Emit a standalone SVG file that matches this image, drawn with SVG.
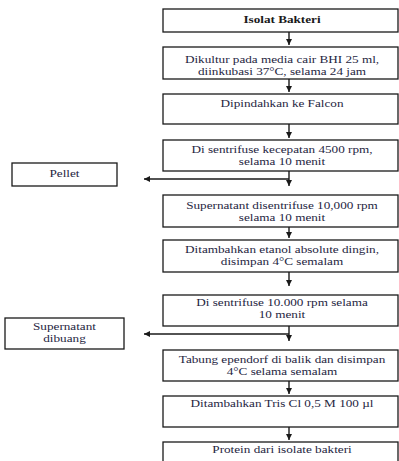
<svg xmlns="http://www.w3.org/2000/svg" width="399" height="461" viewBox="0 0 399 461">
<defs>
<style>
.box{fill:#fff;stroke:#1a1a1a;stroke-width:1.3}
.t{font-family:"Liberation Serif","Times New Roman",serif;font-size:11px;fill:#26263f;text-anchor:middle}
.b{font-weight:bold;fill:#1a1a1a}
.c{stroke:#1a1a1a;stroke-width:1.4;fill:none}
</style>
<marker id="ah" markerUnits="userSpaceOnUse" markerWidth="8" markerHeight="8" refX="6" refY="3" orient="auto">
<path d="M0,0 L6,3 L0,6 Z" fill="#1a1a1a"/>
</marker>
</defs>
<rect width="399" height="461" fill="#fff"/>
<g id="connectors">
<line class="c" x1="289" y1="32" x2="289" y2="45" marker-end="url(#ah)"/>
<line class="c" x1="289" y1="79" x2="289" y2="92" marker-end="url(#ah)"/>
<line class="c" x1="289" y1="124" x2="289" y2="138" marker-end="url(#ah)"/>
<line class="c" x1="289" y1="171" x2="289" y2="186" marker-end="url(#ah)"/>
<line class="c" x1="289" y1="179" x2="144" y2="179" marker-end="url(#ah)"/>
<line class="c" x1="289" y1="227" x2="289" y2="238" marker-end="url(#ah)"/>
<line class="c" x1="289" y1="272" x2="289" y2="286" marker-end="url(#ah)"/>
<line class="c" x1="289" y1="326" x2="289" y2="341" marker-end="url(#ah)"/>
<line class="c" x1="289" y1="334" x2="144" y2="334" marker-end="url(#ah)"/>
<line class="c" x1="289" y1="381" x2="289" y2="394" marker-end="url(#ah)"/>
<line class="c" x1="289" y1="427" x2="289" y2="440" marker-end="url(#ah)"/>
</g>
<g id="n1">
<rect class="box" x="163" y="9" width="235" height="23"/>
<text class="t b" transform="translate(282 0) scale(1.2 1)" x="0" y="23.5">Isolat Bakteri</text>
</g>
<g id="n2">
<rect class="box" x="163" y="47" width="235" height="32"/>
<text class="t" transform="translate(282 0) scale(1.2 1)" x="0" y="63">Dikultur pada media cair BHI 25 ml,</text>
<text class="t" transform="translate(282 0) scale(1.2 1)" x="0" y="75">diinkubasi 37°C, selama 24 jam</text>
</g>
<g id="n3">
<rect class="box" x="163" y="94" width="235" height="30"/>
<text class="t" transform="translate(282 0) scale(1.2 1)" x="0" y="107">Dipindahkan ke Falcon</text>
</g>
<g id="n4">
<rect class="box" x="163" y="140" width="235" height="31"/>
<text class="t" transform="translate(282 0) scale(1.2 1)" x="0" y="153.5">Di sentrifuse kecepatan 4500 rpm,</text>
<text class="t" transform="translate(282 0) scale(1.2 1)" x="0" y="165.5">selama 10 menit</text>
</g>
<g id="pellet">
<rect class="box" x="12" y="163" width="105" height="23"/>
<text class="t" transform="translate(64.5 0) scale(1.2 1)" x="0" y="177">Pellet</text>
</g>
<g id="n5">
<rect class="box" x="163" y="195" width="235" height="32"/>
<text class="t" transform="translate(282 0) scale(1.2 1)" x="0" y="209.5">Supernatant disentrifuse 10,000 rpm</text>
<text class="t" transform="translate(282 0) scale(1.2 1)" x="0" y="221.5">selama 10 menit</text>
</g>
<g id="n6">
<rect class="box" x="163" y="240" width="235" height="32"/>
<text class="t" transform="translate(282 0) scale(1.2 1)" x="0" y="253.5">Ditambahkan etanol absolute dingin,</text>
<text class="t" transform="translate(282 0) scale(1.2 1)" x="0" y="265.5">disimpan 4°C semalam</text>
</g>
<g id="n7">
<rect class="box" x="163" y="295" width="235" height="31"/>
<text class="t" transform="translate(282 0) scale(1.2 1)" x="0" y="306.5">Di sentrifuse 10.000 rpm selama</text>
<text class="t" transform="translate(282 0) scale(1.2 1)" x="0" y="318.5">10 menit</text>
</g>
<g id="dibuang">
<rect class="box" x="5" y="318" width="119" height="31"/>
<text class="t" transform="translate(64.5 0) scale(1.2 1)" x="0" y="330.5">Supernatant</text>
<text class="t" transform="translate(64.5 0) scale(1.2 1)" x="0" y="342.5">dibuang</text>
</g>
<g id="n8">
<rect class="box" x="163" y="350" width="235" height="31"/>
<text class="t" transform="translate(282 0) scale(1.2 1)" x="0" y="363">Tabung ependorf di balik dan disimpan</text>
<text class="t" transform="translate(282 0) scale(1.2 1)" x="0" y="375">4°C selama semalam</text>
</g>
<g id="n9">
<rect class="box" x="163" y="396" width="235" height="31"/>
<text class="t" transform="translate(282 0) scale(1.2 1)" x="0" y="407">Ditambahkan Tris Cl 0,5 M 100 µl</text>
</g>
<g id="n10">
<rect class="box" x="163" y="442" width="235" height="30"/>
<text class="t" transform="translate(282 0) scale(1.2 1)" x="0" y="453">Protein dari isolate bakteri</text>
</g>
</svg>
